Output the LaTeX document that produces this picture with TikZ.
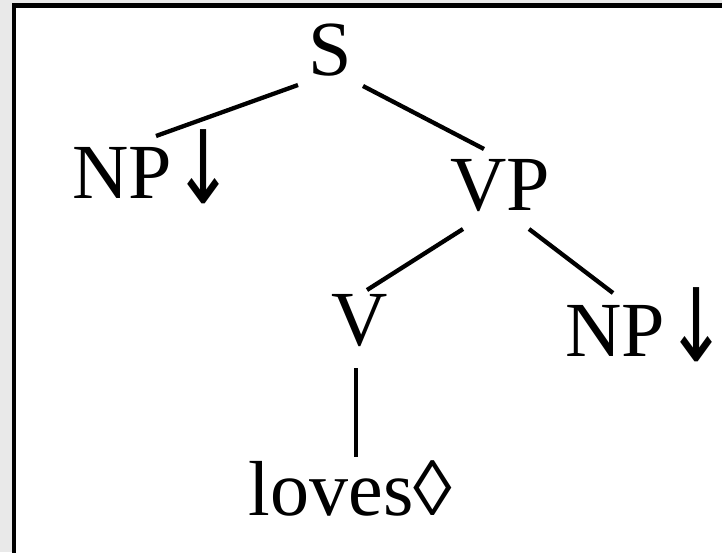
\documentclass[tikz,border=0pt]{standalone}
\usepackage{fontspec}
\usepackage{graphicx}
\setmainfont{Liberation Serif}
\newfontfamily\arrowfont{DejaVu Sans}
\usetikzlibrary{calc}
\definecolor{bggray}{RGB}{233,233,233}
\newcommand{\dnarrow}{\hspace{1pt}\raisebox{-5pt}{\scalebox{0.95}[1.3]{\arrowfont ↓}}}
\begin{document}
\begin{tikzpicture}[x=1pt,y=-1pt,
  lbl/.style={anchor=base,inner sep=0pt,font=\fontsize{78}{90}\selectfont},
  edge/.style={line width=4.3pt}]
\useasboundingbox (0,0) rectangle (722,552);
\fill[bggray] (0,0) rectangle (722,552);
\begin{scope}
\clip (0,0) rectangle (722,552);
\draw[line width=4.5pt, fill=white] (14,5.5) rectangle (760,600);
\end{scope}
\node[lbl] (S) at (330.5,75) {S};
\node[lbl,anchor=base west] (NPl) at (72,198) {NP\dnarrow};
\node[lbl] (VP) at (500.5,210) {VP};
\node[lbl] (V) at (359.5,345) {V};
\node[lbl,anchor=base west] (NPr) at (565,356) {NP\dnarrow};
\node[lbl] (loves) at (350.5,515) {loves◊};
\draw[edge] ($(S.base)+(-32.5,10)$) -- ($(NPl.base west)+(84,-62)$);
\draw[edge] ($(S.base)+(32.5,11)$) -- ($(VP.base)+(-16.5,-61)$);
\draw[edge] ($(VP.base)+(-37.5,19)$) -- ($(V.base)+(7.5,-55)$);
\draw[edge] ($(VP.base)+(28.5,19)$) -- ($(NPr.base west)+(48,-63)$);
\draw[edge] ($(V.base)+(-3.5,23)$) -- ($(loves.base)+(5.5,-58)$);
\end{tikzpicture}
\end{document}
